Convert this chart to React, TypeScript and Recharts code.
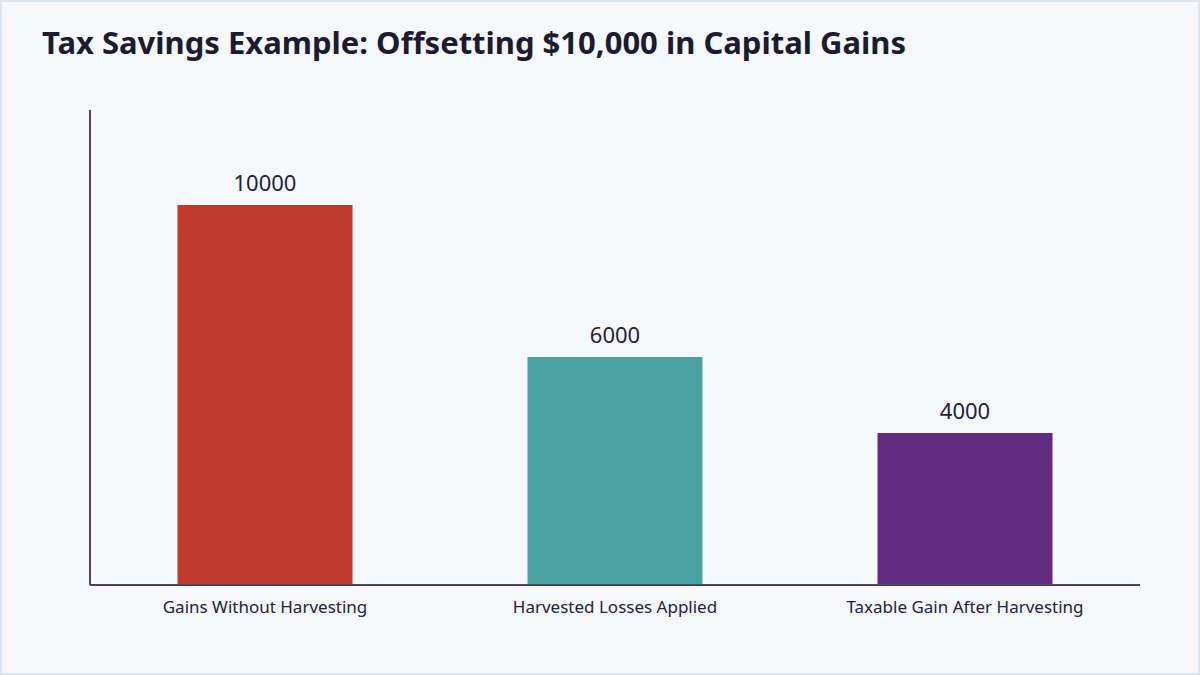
import { BarChart, Bar, XAxis, YAxis, Cell, LabelList } from 'recharts';

const CATEGORIES = ['Gains Without Harvesting', 'Harvested Losses Applied', 'Taxable Gain After Harvesting'];
const VALUES = [10000, 6000, 4000];
const BAR_COLORS = ['#c0392b', '#4aa3a1', '#612c80'];

const data = CATEGORIES.map((name, i) => ({ name, value: VALUES[i] }));

const FONT = '"Noto Sans", sans-serif';

export default function App() {
  return (
    <div
      style={{
        position: 'fixed',
        top: 0,
        left: 0,
        width: 1200,
        height: 675,
        boxSizing: 'border-box',
        background: '#f7f8fc',
        border: '2px solid #dde4ec',
        fontFamily: FONT,
        overflow: 'hidden',
      }}
    >
      <div
        style={{
          position: 'absolute',
          left: 40,
          top: 19,
          fontSize: 31,
          fontWeight: 700,
          color: '#1c1c30',
          whiteSpace: 'nowrap',
        }}
      >
        Tax Savings Example: Offsetting $10,000 in Capital Gains
      </div>
      <div style={{ position: 'absolute', left: -2, top: -2 }}>
        <BarChart
          width={1200}
          height={675}
          data={data}
          margin={{ top: 110, right: 60, bottom: 30, left: 88 }}
          barCategoryGap="25%"
        >
          <XAxis
            dataKey="name"
            height={60}
            tickLine={false}
            axisLine={{ stroke: '#4a4563', strokeWidth: 2 }}
            tick={{ fontSize: 17, fill: '#22223a', fontFamily: FONT }}
            tickMargin={10}
          />
          <YAxis
            width={2}
            domain={[0, 12500]}
            tick={false}
            tickLine={false}
            axisLine={{ stroke: '#4a4563', strokeWidth: 2 }}
          />
          <Bar dataKey="value" isAnimationActive={false}>
            {data.map((_, i) => (
              <Cell key={i} fill={BAR_COLORS[i]} />
            ))}
            <LabelList
              dataKey="value"
              position="top"
              offset={14}
              style={{ fontSize: 22, fill: '#22223a', fontFamily: FONT }}
            />
          </Bar>
        </BarChart>
      </div>
    </div>
  );
}
